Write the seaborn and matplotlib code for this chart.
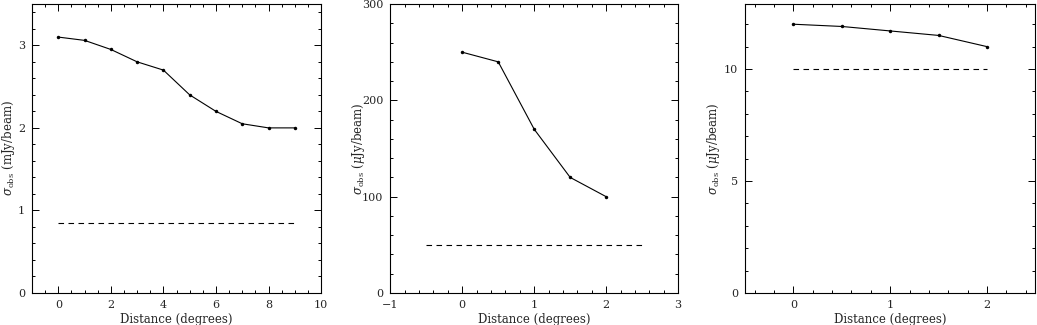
import matplotlib
matplotlib.use("Agg")
import matplotlib.pyplot as plt
import seaborn as sns
from matplotlib.ticker import MultipleLocator

# Data
dist1 = [0, 1, 2, 3, 4, 5, 6, 7, 8, 9]
sigma1 = [3.1, 3.06, 2.95, 2.8, 2.7, 2.4, 2.2, 2.05, 2.0, 2.0]
ref1_x = [0, 9]
ref1_y = [0.85, 0.85]

dist2 = [0, 0.5, 1, 1.5, 2]
sigma2 = [250, 240, 170, 120, 100]
ref2_x = [-0.5, 2.5]
ref2_y = [50, 50]

dist3 = [0, 0.5, 1, 1.5, 2]
sigma3 = [12.0, 11.9, 11.7, 11.5, 11.0]
ref3_x = [0, 2]
ref3_y = [10, 10]

sns.set_theme(style="white")
plt.rcParams['font.family'] = ['DejaVu Serif']
plt.rcParams['mathtext.fontset'] = 'dejavuserif'

fig = plt.figure(figsize=(10.37, 3.25), dpi=100)
H = 0.889
B = 0.0985
axes = [fig.add_axes([0.0309, B, 0.2787, H]),
        fig.add_axes([0.3764, B, 0.2775, H]),
        fig.add_axes([0.7184, B, 0.2800, H])]

cfg = [
    (dist1, sigma1, ref1_x, ref1_y, (-1, 10), (0, 3.5), 2, 0.5, 1, 0.2,
     r'$\sigma_{\rm obs}$ (mJy/beam)', -0.052),
    (dist2, sigma2, ref2_x, ref2_y, (-1, 3), (0, 300), 1, 0.2, 100, 20,
     r'$\sigma_{\rm obs}$ ($\mu$Jy/beam)', -0.082),
    (dist3, sigma3, ref3_x, ref3_y, (-0.5, 2.5), (0, 12.9), 1, 0.2, 5, 1,
     r'$\sigma_{\rm obs}$ ($\mu$Jy/beam)', -0.078),
]

for ax, (x, y, rx, ry, xl, yl, xmaj, xmin, ymaj, ymin, ylab, ylx) in zip(axes, cfg):
    sns.lineplot(x=x, y=y, ax=ax, color='black', linewidth=0.8,
                 marker='o', markersize=2.5, markeredgewidth=0)
    sns.lineplot(x=rx, y=ry, ax=ax, color='black', linewidth=0.8,
                 linestyle=(0, (5, 4)))
    ax.set_xlim(*xl)
    ax.set_ylim(*yl)
    ax.xaxis.set_major_locator(MultipleLocator(xmaj))
    ax.xaxis.set_minor_locator(MultipleLocator(xmin))
    ax.yaxis.set_major_locator(MultipleLocator(ymaj))
    ax.yaxis.set_minor_locator(MultipleLocator(ymin))
    ax.tick_params(which='both', direction='in', top=True, right=True,
                   bottom=True, left=True, labelsize=8, color='black', pad=5)
    ax.tick_params(which='major', length=5, width=0.7)
    ax.tick_params(which='minor', length=2.5, width=0.7)
    for s in ax.spines.values():
        s.set_color('black')
        s.set_linewidth(0.8)
    ax.set_xlabel('Distance (degrees)', fontsize=8.5)
    ax.set_ylabel(ylab, fontsize=8.5)
    ax.xaxis.set_label_coords(0.5, -0.068)
    ax.yaxis.set_label_coords(ylx, 0.5)

fig.savefig('out.png', dpi=100)
